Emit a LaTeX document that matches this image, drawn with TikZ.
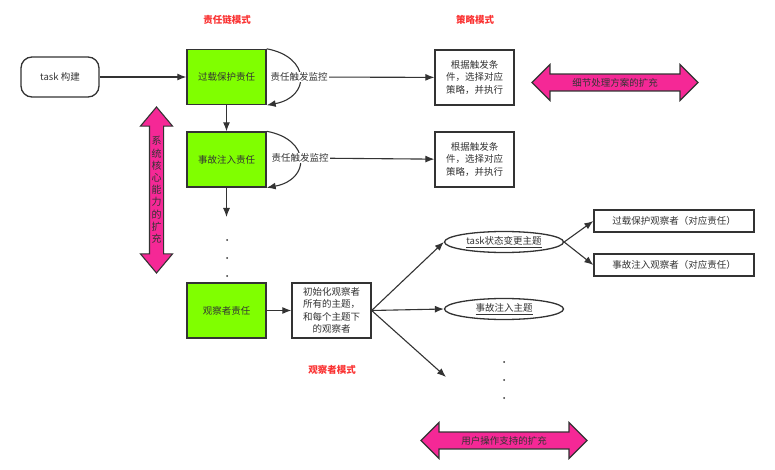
\documentclass[tikz,border=0pt]{standalone}
\usepackage{fontspec}
\setmainfont{Noto Sans CJK SC}
\usetikzlibrary{positioning,shapes.geometric,shapes.arrows,arrows.meta}
\definecolor{chaingreen}{RGB}{128,255,0}
\definecolor{extendpink}{RGB}{245,40,150}
\definecolor{darkline}{RGB}{51,51,51}
\definecolor{titlered}{RGB}{250,50,50}

\begin{document}
\begin{tikzpicture}[x=1pt,y=-1pt,->,>={Latex[length=9pt,width=7pt]},
            line width=1.1pt,color=darkline,
            every node/.style={font=\fontsize{9.5}{12.5}\selectfont},
            start node/.style={draw,rounded corners=11pt,minimum width=78pt,minimum height=40pt,line width=1.3pt},
            chain node/.style={draw,fill=chaingreen,minimum width=79pt,minimum height=55pt,line width=1.4pt},
            plain node/.style={draw,fill=white,minimum width=79pt,minimum height=55pt,align=center,inner sep=2pt,line width=1.3pt},
            topic node/.style={draw,ellipse,minimum width=119pt,minimum height=21pt,inner sep=0pt,line width=1.3pt},
            watcher node/.style={draw,minimum width=160pt,minimum height=22pt,inner sep=0pt,line width=1.3pt},
            monitor node/.style={fill=white,inner sep=1pt},
            title node/.style={text=titlered,font=\fontsize{9.5}{12}\selectfont\bfseries},
            extend arrow/.style={double arrow,draw,fill=extendpink,line width=1.1pt,text=black!80,
                minimum height=166pt,double arrow head extend=9.5pt,inner xsep=0pt,inner ysep=3.5pt}]

        \useasboundingbox (0,0) rectangle (775,470);

        % Titles
        \node[title node] (chaintitle) at (227,20) {责任链模式};
        \node[title node] (strategytitle) at (475,20) {策略模式};
        \node[title node] (watchertitle) at (332,370) {观察者模式};

        % Define vertices
        \node[start node] (task) at (60,77) {task 构建};
        \node[chain node] (g1) at (226.5,77) {过载保护责任};
        \node[chain node] (g2) at (226.5,159.5) {事故注入责任};
        \node[chain node] (g3) at (226.5,310.5) {观察者责任};
        \coordinate (chainend) at (226.5,217);
        \node[plain node] (s1) at (474.5,77.5) {根据触发条\\件，选择对应\\策略，并执行};
        \node[plain node] (s2) at (474.5,159.5) {根据触发条\\件，选择对应\\策略，并执行};
        \node[plain node] (init) at (331.5,310.5) {初始化观察者\\所有的主题，\\和每个主题下\\的观察者};
        \node[topic node] (t1) at (504,242) {\underline{task状态变更主题}};
        \node[topic node] (t2) at (504,309) {\underline{事故注入主题}};
        \coordinate (more) at (446,377);
        \node[watcher node] (o1) at (674,221) {过载保护观察者（对应责任）};
        \node[watcher node] (o2) at (674,265) {事故注入观察者（对应责任）};

        % Self loops
        \draw (g1.north east) .. controls +(44,8) and +(44,-8) .. (g1.south east);
        \draw (g2.north east) .. controls +(44,8) and +(44,-8) .. (g2.south east);
        \node[monitor node] (m1) at (299,77) {责任触发监控};
        \node[monitor node] (m2) at (300,158) {责任触发监控};

        % Draw edges
        \path
            (task) edge (g1)
            (g1) edge (g2)
            (g2) edge (chainend)
            (m1) edge (s1)
            (m2) edge (s2)
            (g3) edge (init)
            (init.east) edge (t1.west)
            (init.east) edge (t2.west)
            (init.east) edge (more)
            (t1.east) edge (o1.west)
            (t1.east) edge (o2.west);

        % Dots
        \foreach \y in {240,258,276}
            \fill[-] (227,\y) circle (1pt);
        \foreach \y in {362,380,398}
            \fill[-] (504,\y) circle (1pt);

        % Extension arrows
        \node[extend arrow] (detail) at (615,82.5) {细节处理方案的扩充};
        \node[extend arrow] (user) at (504,440.5) {用户操作支持的扩充};
        \node[extend arrow,shape border rotate=90,align=center,inner xsep=1.5pt,inner ysep=0pt,
            double arrow head extend=9pt,double arrow tip angle=80,
            font=\fontsize{10}{12.2}\selectfont] (core) at (156.5,190)
            {系\\统\\核\\心\\能\\力\\的\\扩\\充};

\end{tikzpicture}
\end{document}
